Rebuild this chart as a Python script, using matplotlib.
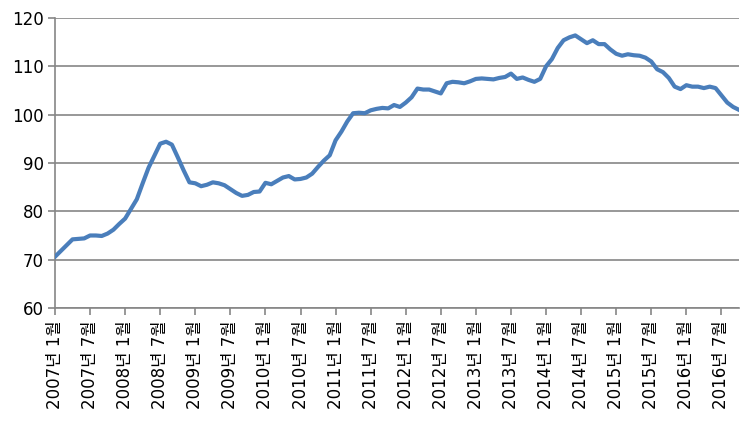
import matplotlib
matplotlib.use("Agg")
import matplotlib.pyplot as plt

plt.rcParams['font.family'] = ['DejaVu Sans', 'Noto Sans CJK KR']

# Monthly index values, 2007-01 .. 2016-10
values = [
    70.6, 71.8, 73.0, 74.2, 74.3, 74.4, 75.0, 75.0, 74.9, 75.4, 76.2, 77.4,   # 2007
    78.5, 80.5, 82.5, 85.8, 89.0, 91.5, 94.0, 94.4, 93.8, 91.2, 88.5, 86.0,   # 2008
    85.8, 85.2, 85.5, 86.0, 85.8, 85.4, 84.6, 83.8, 83.2, 83.4, 84.0, 84.1,   # 2009
    85.9, 85.6, 86.3, 87.0, 87.3, 86.6, 86.7, 87.0, 87.8, 89.2, 90.5, 91.6,   # 2010
    94.7, 96.5, 98.6, 100.3, 100.4, 100.3, 100.9, 101.2, 101.4, 101.3, 102.0, 101.6,  # 2011
    102.5, 103.6, 105.4, 105.2, 105.2, 104.8, 104.4, 106.5, 106.8, 106.7, 106.5, 106.9,  # 2012
    107.4, 107.5, 107.4, 107.3, 107.6, 107.8, 108.5, 107.4, 107.7, 107.2, 106.8, 107.4,  # 2013
    110.0, 111.5, 113.8, 115.4, 116.0, 116.4, 115.6, 114.8, 115.4, 114.6, 114.6, 113.5,  # 2014
    112.6, 112.2, 112.5, 112.3, 112.2, 111.8, 111.0, 109.4, 108.8, 107.6, 105.8, 105.3,  # 2015
    106.1, 105.8, 105.8, 105.5, 105.8, 105.5, 104.0, 102.5, 101.6, 101.0,  # 2016
]
tick_labels = [f"{y}년 {m}월" for y in range(2007, 2017) for m in (1, 7)]
y_ticks = [60, 70, 80, 90, 100, 110, 120]

fig = plt.figure(figsize=(7.49, 4.23), dpi=100)
ax = fig.add_axes([0.0734, 0.2719, 0.9132, 0.6855])

ax.plot(range(len(values)), values, color='#4A7EBB', lw=3.0, solid_joinstyle='round', zorder=3)

ax.set_xlim(0, len(values) - 1)
ax.set_ylim(60, 120)
ax.set_yticks(y_ticks)
ax.set_xticks(range(0, 6 * len(tick_labels), 6))
ax.set_xticklabels(tick_labels, rotation=90, fontsize=12)
ax.tick_params(axis='y', labelsize=12, length=5, color='#868686', width=1.2, pad=3)
ax.tick_params(axis='x', length=5, color='#868686', width=1.2, pad=4)

ax.grid(axis='y', color='#868686', lw=1.2)
ax.set_axisbelow(True)
for s in ['top', 'right']:
    ax.spines[s].set_visible(False)
for s in ['left', 'bottom']:
    ax.spines[s].set_color('#868686')
    ax.spines[s].set_linewidth(1.2)

fig.savefig('out.png', dpi=100)
